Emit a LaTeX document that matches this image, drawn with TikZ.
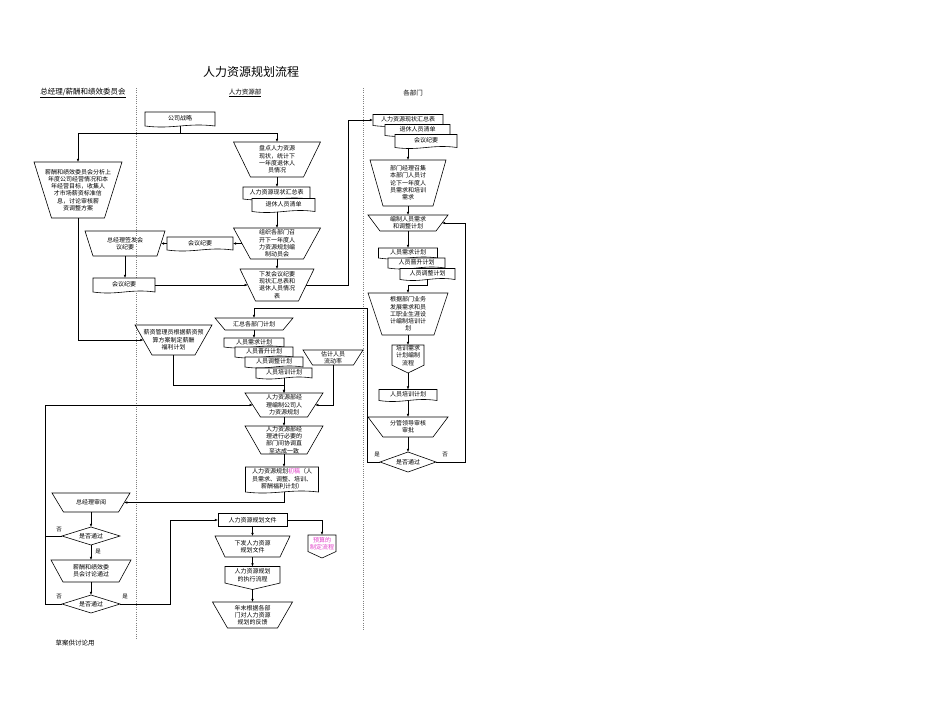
\documentclass[tikz,border=0pt]{standalone}
\usepackage{fontspec}
\setmainfont{Noto Sans CJK SC}
\usetikzlibrary{arrows.meta,calc}
\definecolor{pinkt}{RGB}{225,60,200}
\newcommand{\nf}{\fontsize{6}{7.3}\selectfont}
\tikzset{
 box/.style={inner sep=0pt,outer sep=0pt,align=center,font=\nf},
 shp/.style={draw=black,line width=0.6pt},
 con/.style={draw=black,line width=0.5pt},
 arr/.style={con,-{Latex[length=3.2pt,width=2.6pt]}},
 lane/.style={draw=gray,line width=0.5pt,dash pattern=on 1pt off 1.2pt},
 lbl/.style={inner sep=0pt,font=\fontsize{5.5}{6}\selectfont},
}
\newcommand{\trap}[7]{%
 \node[box,minimum width=#4pt,minimum height=#5pt] (#1) at (#2,#3) {#7};
 \draw[shp] (#1.north west) -- (#1.north east) -- ([xshift=-#6pt]#1.south east) -- ([xshift=#6pt]#1.south west) -- cycle;
 \coordinate (#1-l) at ([xshift=#6pt/2]#1.west);
 \coordinate (#1-r) at ([xshift=-#6pt/2]#1.east);
}
\newcommand{\docu}[6]{%
 \node[box,minimum width=#4pt,minimum height=#5pt] (#1) at (#2,#3) {};
 \draw[shp,fill=white] (#1.south east) -- (#1.north east) -- (#1.north west) -- (#1.south west) .. controls +(#4pt*0.4,-3.5pt) and +(-#4pt*0.4,3.5pt) .. (#1.south east) -- cycle;
 \node[box] at ([yshift=0.5pt]#1.center) {#6};
}
\newcommand{\offp}[6]{%
 \node[box,minimum width=#4pt,minimum height=#5pt] (#1) at (#2,#3) {};
 \draw[shp] (#1.north west) -- (#1.north east) -- ([yshift=#5pt*0.28]#1.south east) -- (#1.south) -- ([yshift=#5pt*0.28]#1.south west) -- cycle;
 \node[box] at ([yshift=#5pt*0.12]#1.center) {#6};
}
\newcommand{\dia}[6]{%
 \node[box,minimum width=#4pt,minimum height=#5pt] (#1) at (#2,#3) {#6};
 \draw[shp] (#1.north) -- (#1.east) -- (#1.south) -- (#1.west) -- cycle;
}
\begin{document}
\begin{tikzpicture}[x=1pt,y=-1pt]
\fill[white] (0,0) rectangle (950,713);
\useasboundingbox (0,0) rectangle (950,713);

% titles
\node[inner sep=0pt,font=\fontsize{12}{14}\selectfont] (title) at (251,72) {人力资源规划流程};
\node[inner sep=0pt,font=\fontsize{7.5}{9}\selectfont] (h1) at (83,93) {\underline{总经理/薪酬和绩效委员会}};
\node[inner sep=0pt,font=\fontsize{6.5}{8}\selectfont] (h2) at (245,93) {\underline{人力资源部}};
\node[inner sep=0pt,font=\fontsize{6.5}{8}\selectfont] (h3) at (413,93) {各部门};

% lanes
\draw[lane] (136,88) -- (136,640);
\draw[lane] (363,88) -- (363,630);

% ---------- nodes ----------
\docu{gszl}{180}{119}{70}{14}{公司战略}
\trap{t1}{78}{190}{88}{56}{17.5}{薪酬和绩效委员会分析上\\年度公司经营情况和本\\年经营目标，收集人\\才市场薪资标准信\\息，讨论审核薪\\资调整方案}
\trap{t2}{277}{159.5}{87}{35}{17}{盘点人力资源\\现状，统计下\\一年度退休人\\员情况}
\docu{mdA}{276.5}{193}{67}{12}{人力资源现状汇总表}
\docu{mdB}{283.5}{205}{63}{13}{退休人员清单}
\trap{t3}{277}{243.5}{87}{31}{17}{组织各部门召\\开下一年度人\\力资源规划编\\制动员会}
\docu{hyjy1}{200}{243.5}{66}{13}{会议纪要}
\trap{t4}{125}{243.5}{80}{25}{8}{总经理签发会\\议纪要}
\docu{hyjy2}{124}{285}{62}{14}{会议纪要}
\trap{t5}{277}{285}{74}{32}{15.5}{下发会议纪要\\现状汇总表和\\退休人员情况\\表}

% right column
\docu{mdR1}{408}{120}{70}{11}{人力资源现状汇总表}
\docu{mdR2}{417.5}{130}{65}{11}{退休人员清单}
\docu{mdR3}{426}{141}{62}{13}{会议纪要}
\trap{t6}{408}{183}{76}{46}{13}{部门经理召集\\本部门人员讨\\论下一年度人\\员需求和培训\\需求}
\trap{t7}{408}{223}{80}{16}{12}{编制人员需求\\和调整计划}
\docu{mdR4}{408}{253}{59}{10}{人员需求计划}
\docu{mdR5}{416.5}{263}{57}{10}{人员晋升计划}
\docu{mdR6}{427.5}{274}{55}{11}{人员调整计划}
\trap{t8}{408}{314}{80}{42}{14}{根据部门业务\\发展需求和员\\工职业生涯设\\计编制培训计\\划}
\offp{op1}{408}{359}{32}{28}{培训需求\\计划编制\\流程}
\docu{pxjh}{408}{395}{58}{11}{人员培训计划}
\trap{t9}{408}{427}{80}{20}{15}{分管领导审核\\审批}
\dia{dR}{408}{462}{56}{20}{是否通过}

% middle
\trap{t10}{254}{324}{78}{12}{10}{汇总各部门计划}
\docu{mdM1}{254}{342.5}{60}{9}{人员需求计划}
\docu{mdM2}{264}{352}{58}{10}{人员晋升计划}
\docu{mdM3}{274}{362}{58}{10}{人员调整计划}
\docu{mdM4}{284}{373}{56}{10}{人员培训计划}
\trap{t12}{333}{357.5}{60}{15}{9.5}{估计人员\\流动率}
\trap{t13}{173.5}{340}{77}{30}{17}{薪资管理员根据薪资预\\算方案制定薪酬\\福利计划}
\trap{t11}{284}{405}{78}{24}{15.5}{人力资源部经\\理编制公司人\\力资源规划}
\trap{t14}{284}{440}{78}{28}{16}{人力资源部经\\理进行必要的\\部门间协调直\\至达成一致}
\docu{gh}{282}{479.5}{73}{25}{人力资源规划\textcolor{pinkt}{初稿}（人\\员需求、调整、培训、\\薪酬福利计划）}

% bottom left
\trap{t15}{91}{502.5}{78}{19}{11.5}{总经理审阅}
\dia{dL1}{91}{536}{58}{18}{是否通过}
\trap{t16}{91}{571}{80}{22}{12}{薪酬和绩效委\\员会讨论通过}
\dia{dL2}{91}{604}{58}{18}{是否通过}

% bottom middle
\node[box,shp,fill=white,minimum width=69pt,minimum height=13pt] (wj) at (252.5,520) {人力资源规划文件};
\offp{op2}{322}{546.5}{28}{23}{\textcolor{pinkt}{预算的}\\\textcolor{pinkt}{制定流程}}
\trap{t17}{252.5}{546.5}{75}{21}{10}{下发人力资源\\规划文件}
\offp{op3}{252.5}{578}{55}{23}{人力资源规划\\的执行流程}
\trap{t18}{252.5}{615}{80}{26}{15}{年末根据各部\\门对人力资源\\规划的反馈}

% labels
\node[lbl] (l1) at (377,455) {是};
\node[lbl] (l2) at (445,455) {否};
\node[lbl] (l3) at (59,530) {否};
\node[lbl] (l4) at (98,552) {是};
\node[lbl] (l5) at (59,597) {否};
\node[lbl] (l6) at (125,597) {是};
\node[inner sep=0pt,font=\fontsize{6.5}{8}\selectfont] (note) at (75,643) {草案供讨论用};

% ---------- connectors ----------
\coordinate (j1) at (180,133);
\draw[con] (gszl.south) -- (j1);
\draw[arr] (j1) -| (t1.north);
\draw[arr] (j1) -| (t2.north);
\draw[arr] (t2.south) -- (t2.south |- mdA.north);
\draw[arr] (t3.north |- mdB.south) -- (t3.north);
\draw[arr] (t3-l) -- (hyjy1.east);
\draw[arr] (hyjy1.west) -- (t4-r);
\draw[arr] (t4.south) -- (t4.south |- hyjy2.north);
\draw[arr] (t3.south) -- (t5.north);
\draw[arr] (hyjy2.east) -- (t5-l);
\coordinate (k0) at (348,285);
\draw[arr] (t5-r) -- (k0) |- (mdR1.west);

\draw[arr] (t6.north |- mdR3.south) -- (t6.north);
\draw[arr] (t6.south) -- (t7.north);
\draw[arr] (t7.south) -- (mdR4.north);
\coordinate (k1) at (427.5,285);
\draw[arr] (mdR6.south) -- (k1) -| (t8.north);
\draw[arr] (t8.south) -- (op1.north);
\draw[arr] (op1.south) -- (pxjh.north);
\draw[arr] (pxjh.south) -- (t9.north);
\draw[arr] (t9.south) -- (dR.north);
\coordinate (k2) at (367,308);
\draw[arr] (dR.west) -| (k2) -| (t10.north);
\coordinate (k3) at (465,223);
\draw[arr] (dR.east) -| (k3) -- (t7-r);

\draw[arr] (t10.south) -- (mdM1.north);
\draw[arr] (mdM4.south) -- (t11.north);
\draw[arr] (t1.south) |- (t13-l);
\coordinate (k4) at (284,385);
\draw[arr] (t13.south) |- (k4) -- (t11.north);
\draw[arr] (t12.south) |- (t11-r);
\draw[arr] (t11.south) -- (t14.north);
\draw[arr] (t14.south) -- (t14.south |- gh.north);
\draw[arr] (t14.south |- gh.south) |- (t15-r);

\draw[arr] (t15.south) -- (dL1.north);
\draw[arr] (dL1.south) -- (t16.north);
\draw[arr] (t16.south) -- (dL2.north);
\coordinate (k5) at (45,536);
\draw[con] (dL1.west) -- (k5);
\coordinate (k6) at (45,405);
\draw[arr] (dL2.west) -| (k6) -- (t11-l);
\coordinate (k7) at (170,520);
\draw[arr] (dL2.east) -| (k7) -- (wj.west);
\draw[arr] (wj.east) -| (op2.north);
\draw[arr] (wj.south) -- (t17.north);
\draw[arr] (t17.south) -- (op3.north);
\draw[arr] (op3.south) -- (t18.north);
\end{tikzpicture}
\end{document}
